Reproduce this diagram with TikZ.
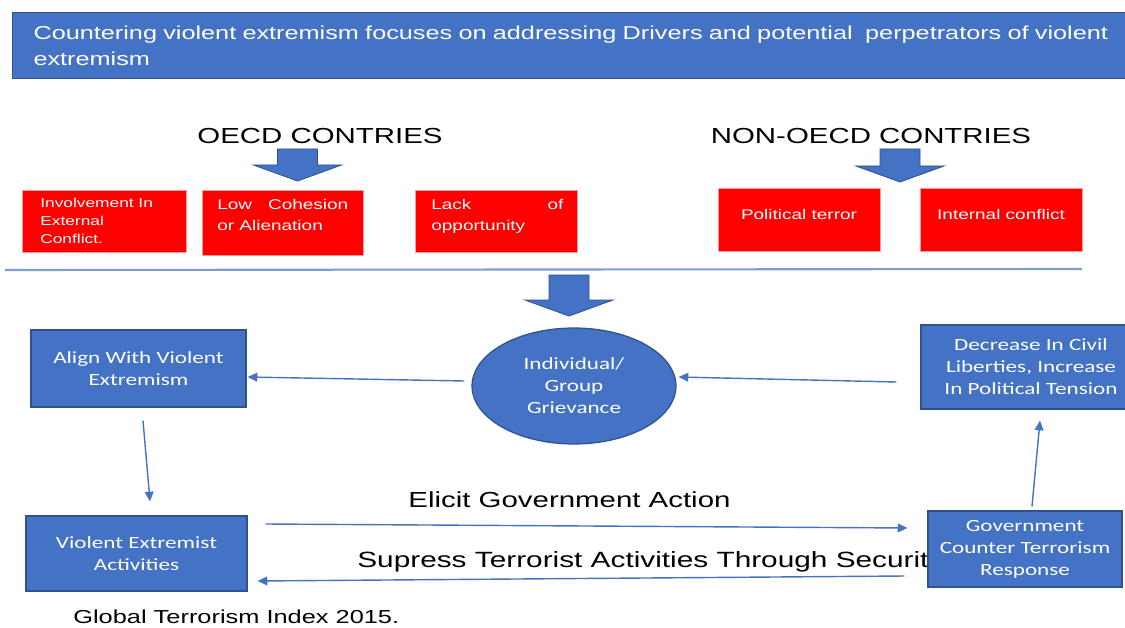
\documentclass[tikz,border=0pt]{standalone}
\usepackage{fontspec}
\setmainfont{Liberation Sans}[FakeStretch=1.35]
\newfontfamily\boxfont{Carlito}[FakeStretch=1.35]
\usepackage{xcolor}
\usetikzlibrary{shapes.geometric,arrows.meta}

\definecolor{officeblue}{HTML}{4472C4}
\definecolor{officeedge}{HTML}{2F528F}
\definecolor{driverred}{HTML}{FF0000}
\definecolor{driveredge}{HTML}{FF9B9B}
\definecolor{rulerblue}{HTML}{7F9CD6}

% fat down arrow: centre x, top y, tip y
\newcommand{\blockarrow}[3]{%
  \filldraw[fatarrow] (#1-20,#2) -- (#1+20,#2) -- (#1+20,#3-16) -- (#1+44,#3-16)
    -- (#1,#3) -- (#1-44,#3-16) -- (#1-20,#3-16) -- cycle;}

\begin{document}
\begin{tikzpicture}[
  x=0.02cm, y=-0.02cm,
  banner/.style={rectangle, fill=officeblue, draw=officeedge, line width=0.6pt, text=white, align=left, anchor=north west, minimum height=1.32cm, text width=21.7cm, inner xsep=0.42cm, font=\fontsize{10.65}{14.7}\selectfont},
  heading/.style={inner sep=0pt, font=\fontsize{12.4}{15}\selectfont},
  driver/.style={rectangle, fill=driverred, draw=driveredge, line width=0.5pt},
  drivertext/.style={text=white, inner sep=0pt, align=left, font=\fontsize{8}{12}\selectfont},
  stage/.style={rectangle, fill=officeblue, draw=officeedge, line width=0.7pt, text=white, align=center, font=\boxfont\fontsize{9.75}{12.5}\selectfont},
  fatarrow/.style={fill=officeblue, draw=officeedge, line width=0.5pt},
  flow/.style={draw=officeblue, line width=0.8pt, -{Triangle[length=5.5pt,width=5pt]}},
  flowlabel/.style={inner sep=0pt, font=\fontsize{12.4}{15}\selectfont}
]
\useasboundingbox (0,0) rectangle (1125,628);

% Title bar
\node[banner] (title) at (12,12) {Countering violent extremism focuses on addressing Drivers and potential~ perpetrators of violent\\extremism};

% Country groups
\node[heading] (oecd) at (320,136) {OECD CONTRIES};
\node[heading] (nonoecd) at (871,136) {NON-OECD CONTRIES};
\blockarrow{297.5}{149}{181}
\blockarrow{900}{149}{182}

% Drivers
\node[driver, minimum width=3.28cm, minimum height=1.24cm] (external) at (104,221) {};
\node[driver, minimum width=3.22cm, minimum height=1.30cm] (cohesion) at (282.5,222.5) {};
\node[driver, minimum width=3.24cm, minimum height=1.24cm] (lack) at (496,221) {};
\node[driver, minimum width=3.24cm, minimum height=1.26cm] (terror) at (799,219.5) {};
\node[driver, minimum width=3.24cm, minimum height=1.26cm] (internal) at (1001,219.5) {};

\node[drivertext, anchor=north west, font=\fontsize{7.3}{10.2}\selectfont] at (40,198) {Involvement In\\External\\Conflict.};
\node[drivertext, anchor=north west] at (217,199) {\makebox[2.62cm][s]{Low Cohesion}\\or Alienation};
\node[drivertext, anchor=north west] at (431,199) {\makebox[2.64cm][s]{Lack of}\\opportunity};
\node[drivertext] at (799,214) {Political terror};
\node[drivertext] at (1001,214) {Internal conflict};

% Divider
\draw[rulerblue, line width=1.2pt] (5,270) -- (1082,269);
\blockarrow{569}{275}{316}

% Cycle
\node[ellipse, fill=officeblue, draw=officeedge, line width=0.7pt, text=white, align=center, minimum width=4.08cm, minimum height=2.32cm, font=\boxfont\fontsize{9.75}{12.5}\selectfont] (grievance) at (574,386) {Individual/\\Group\\Grievance};
\node[stage, minimum width=4.3cm, minimum height=1.54cm] (align) at (138.5,368.5) {Align With Violent\\Extremism};
\node[stage, minimum width=4.4cm, minimum height=1.68cm] (civil) at (1031,367) {Decrease In Civil\\Liberties, Increase\\In Political Tension};
\node[stage, minimum width=4.42cm, minimum height=1.5cm] (activities) at (136.5,553.5) {Violent Extremist\\Activities};

\node[flowlabel] (elicit) at (569.5,500) {Elicit Government Action};
\node[flowlabel, anchor=west, font=\fontsize{12.56}{15}\selectfont] (supress) at (357,562) {Supress Terrorist Activities Through Security};

\node[stage, minimum width=3.88cm, minimum height=1.52cm] (response) at (1025,549) {Government\\Counter Terrorism\\Response};

\draw[flow] ([shift={(-7,-5)}]grievance.west) -- ([shift={(1,8.5)}]align.east);
\draw[flow] ([shift={(-24,15)}]civil.west) -- ([shift={(2,-9)}]grievance.east);
\draw[flow] ([shift={(4.5,13)}]align.south) -- ([shift={(13.5,-14)}]activities.north);
\draw[flow] ([shift={(7,-4)}]response.north) -- ([shift={(9,11)}]civil.south);
\draw[flow] ([shift={(18,-29.5)}]activities.east) -- ([shift={(-20,-21)}]response.west);
\draw[flow] ([shift={(-23,27)}]response.west) -- ([shift={(10,27.5)}]activities.east);

% Source
\node[inner sep=0pt, anchor=west, font=\fontsize{10.7}{13}\selectfont] (source) at (73,617) {Global Terrorism Index 2015.};

\end{tikzpicture}
\end{document}
